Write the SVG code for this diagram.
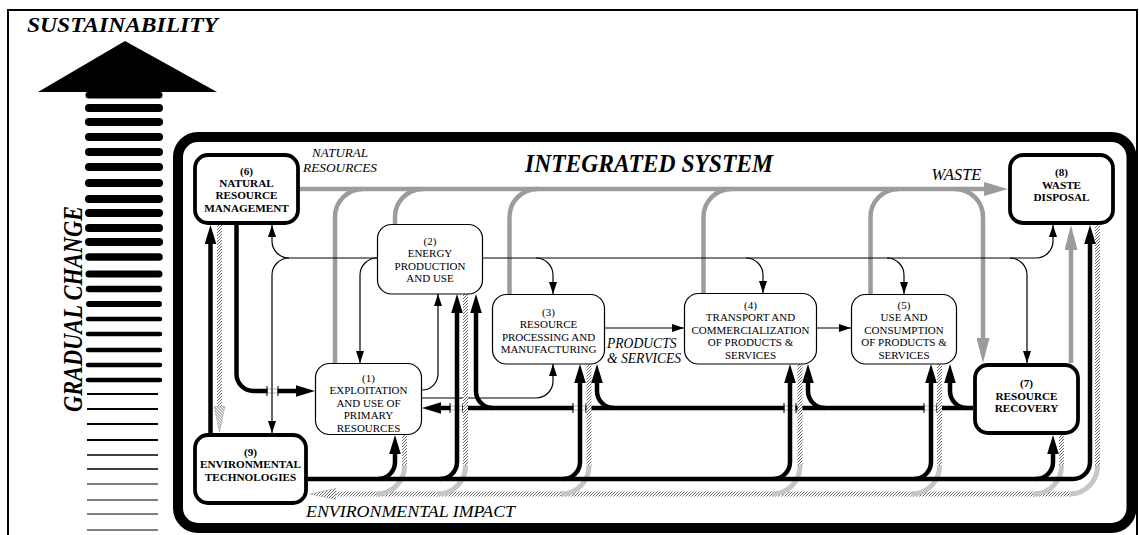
<svg xmlns="http://www.w3.org/2000/svg" width="1139" height="535" viewBox="0 0 1139 535">
<defs>
<style>
.nt{font-family:"Liberation Serif","Times New Roman",serif;font-size:11px;text-anchor:middle;fill:#000}
.bt{font-family:"Liberation Serif","Times New Roman",serif;font-size:11.2px;font-weight:bold;text-anchor:middle;fill:#000}
.lbl{font-family:"Liberation Serif","Times New Roman",serif;font-style:italic;fill:#000}
.big{font-family:"Liberation Serif","Times New Roman",serif;font-style:italic;font-weight:bold;fill:#000}
.node{fill:#fff;stroke:#000;stroke-width:1.2}
.bnode{fill:#fff;stroke:#000;stroke-width:3.8}
.thin{fill:none;stroke:#000;stroke-width:1.2}
.thick{fill:none;stroke:#000;stroke-width:4.5}
.gray{fill:none;stroke:#9c9c9c;stroke-width:4.5}
.hatch{fill:none;stroke:url(#hatchP);stroke-width:5}
.lg{fill:none;stroke:#c6c6c6;stroke-width:5}
.bar{stroke:#000;stroke-linecap:round}
.tbar{stroke:#000}
.tick{stroke:#000;stroke-width:1}
.gapln{stroke:#999;stroke-width:0.7}
</style>
<pattern id="hatchP" patternUnits="userSpaceOnUse" width="3" height="3">
<rect width="3" height="3" fill="#fff"/>
<path d="M-1,1 L1,-1 M0,3 L3,0 M2,4 L4,2" stroke="#5a5a5a" stroke-width="0.9"/>
</pattern>
<marker id="aThin" markerUnits="userSpaceOnUse" viewBox="0 0 12 8" markerWidth="12" markerHeight="8" refX="12" refY="4" orient="auto">
<path d="M0,0 L12,4 L0,8 Z" fill="#000"/>
</marker>
<marker id="aThick" markerUnits="userSpaceOnUse" viewBox="0 0 19 12" markerWidth="19" markerHeight="12" refX="9.5" refY="6" orient="auto">
<path d="M0,0.2 L19,6 L0,11.8 Z" fill="#000"/>
</marker>
<marker id="aGray" markerUnits="userSpaceOnUse" viewBox="0 0 25 13" markerWidth="25" markerHeight="13" refX="12.5" refY="6.5" orient="auto">
<path d="M0,0 L25,6.5 L0,13 Z" fill="#9c9c9c"/>
</marker>
<marker id="aGrayW" markerUnits="userSpaceOnUse" viewBox="0 0 24 14" markerWidth="24" markerHeight="14" refX="12" refY="7" orient="auto">
<path d="M0,0 L24,7 L0,14 Z" fill="#9c9c9c"/>
</marker>
<marker id="aHatch" markerUnits="userSpaceOnUse" viewBox="0 0 26 12" markerWidth="26" markerHeight="12" refX="13" refY="6" orient="auto">
<path d="M0,0.5 L26,6 L0,11.5 Z" fill="url(#hatchP)" stroke="#999" stroke-width="0.5"/>
</marker>
</defs>

<rect x="0" y="0" width="1139" height="535" fill="#fff"/>
<!-- outer frame -->
<rect x="8" y="10" width="1129" height="600" fill="none" stroke="#000" stroke-width="2"/>

<!-- sustainability arrow -->
<g id="gradual-change">
<line class="bar" x1="89" y1="95" x2="159" y2="95" stroke-width="7"/>
<line class="bar" x1="89" y1="108" x2="159" y2="108" stroke-width="8"/>
<line class="bar" x1="89" y1="122" x2="159" y2="122" stroke-width="8"/>
<line class="bar" x1="89" y1="137" x2="159" y2="137" stroke-width="8"/>
<line class="bar" x1="89" y1="152" x2="159" y2="152" stroke-width="8"/>
<line class="bar" x1="89" y1="167" x2="159" y2="167" stroke-width="8"/>
<line class="bar" x1="89" y1="183" x2="159" y2="183" stroke-width="8"/>
<line class="bar" x1="89" y1="199" x2="159" y2="199" stroke-width="8"/>
<line class="bar" x1="89" y1="213" x2="159" y2="213" stroke-width="8"/>
<line class="bar" x1="89" y1="228" x2="159" y2="228" stroke-width="8"/>
<line class="bar" x1="89" y1="242" x2="159" y2="242" stroke-width="8"/>
<line class="bar" x1="89" y1="257" x2="159" y2="257" stroke-width="7.5"/>
<line class="bar" x1="89" y1="274" x2="159" y2="274" stroke-width="7"/>
<line class="bar" x1="89" y1="289" x2="159" y2="289" stroke-width="6.5"/>
<line class="bar" x1="89" y1="304" x2="159" y2="304" stroke-width="6"/>
<line class="bar" x1="88" y1="319" x2="160" y2="319" stroke-width="4.5"/>
<line class="bar" x1="88" y1="334" x2="160" y2="334" stroke-width="4.5"/>
<line class="bar" x1="88" y1="350" x2="160" y2="350" stroke-width="4.5"/>
<line class="bar" x1="88" y1="365" x2="160" y2="365" stroke-width="4.5"/>
<line class="bar" x1="88" y1="380" x2="160" y2="380" stroke-width="4.5"/>
<line class="tbar" x1="87" y1="394" x2="158" y2="394" stroke-width="2.2"/>
<line class="tbar" x1="87" y1="409" x2="158" y2="409" stroke-width="2.2"/>
<line class="tbar" x1="87" y1="424" x2="158" y2="424" stroke-width="2"/>
<line class="tbar" x1="87" y1="440" x2="158" y2="440" stroke-width="1.8"/>
<line class="tbar" x1="87" y1="455" x2="158" y2="455" stroke-width="1.5"/>
<line class="tbar" x1="87" y1="469" x2="158" y2="469" stroke-width="1.3"/>
<line class="tbar" x1="87" y1="484" x2="158" y2="484" stroke-width="1.2"/>
<line class="tbar" x1="87" y1="500" x2="158" y2="500" stroke-width="1.2"/>
<line class="tbar" x1="87" y1="514" x2="158" y2="514" stroke-width="1.2"/>
<line class="tbar" x1="87" y1="530" x2="158" y2="530" stroke-width="1.2"/>
<polygon points="38,92 125,41 217,92" fill="#000"/>
<text class="big" x="27" y="31.5" font-size="21.5" textLength="191" lengthAdjust="spacingAndGlyphs">SUSTAINABILITY</text>
<text class="big" transform="translate(82,412) rotate(-90)" x="0" y="0" font-size="27" textLength="206" lengthAdjust="spacingAndGlyphs">GRADUAL CHANGE</text>
</g>

<!-- integrated system container -->
<g id="integrated-system">
<rect x="178" y="137" width="953.5" height="391" rx="20" ry="20" fill="none" stroke="#000" stroke-width="10"/>
<text class="big" x="525" y="172" font-size="25" textLength="248" lengthAdjust="spacingAndGlyphs">INTEGRATED SYSTEM</text>
</g>

<g id="connectors">
<!-- gray natural resources / waste flows -->
<path class="gray" d="M300,189 H996" marker-end="url(#aGrayW)"/>
<path class="gray" d="M335,363 V217 A28,28 0 0 1 363,189"/>
<path class="gray" d="M395,224 V217 A28,28 0 0 1 423,189"/>
<path class="gray" d="M509.5,294 V217 A28,28 0 0 1 537.5,189"/>
<path class="gray" d="M703.5,293 V217 A28,28 0 0 1 731.5,189"/>
<path class="gray" d="M870.5,294 V217 A28,28 0 0 1 898.5,189"/>
<path class="gray" d="M955,189 A28,28 0 0 1 983,217 V350.5" marker-end="url(#aGray)"/>
<path class="gray" d="M1071,363 V237.5" marker-end="url(#aGray)"/>

<!-- thick: natural resource management to exploitation -->
<path class="thick" d="M236.5,225 V374 A17,17 0 0 0 253.5,391 H305.5" marker-end="url(#aThick)"/>
<rect x="267.5" y="388" width="10" height="6" fill="#fff"/>
<line class="gapln" x1="267" y1="389" x2="278" y2="389"/>
<line class="gapln" x1="267" y1="393" x2="278" y2="393"/>
<line class="tick" x1="267" y1="386" x2="267" y2="396"/>
<line class="tick" x1="278" y1="386" x2="278" y2="396"/>

<!-- thick: resource recovery line -->
<path class="thick" d="M973,408 H431.5" marker-end="url(#aThick)"/>
<rect x="450.5" y="405" width="12" height="6" fill="#fff"/>
<rect x="573.5" y="405" width="12" height="6" fill="#fff"/>
<rect x="784.5" y="405" width="11" height="6" fill="#fff"/>
<rect x="924.5" y="405" width="12" height="6" fill="#fff"/>
<g>
<line class="gapln" x1="450" y1="406" x2="463" y2="406"/><line class="gapln" x1="450" y1="410" x2="463" y2="410"/>
<line class="gapln" x1="573" y1="406" x2="586" y2="406"/><line class="gapln" x1="573" y1="410" x2="586" y2="410"/>
<line class="gapln" x1="784" y1="406" x2="796" y2="406"/><line class="gapln" x1="784" y1="410" x2="796" y2="410"/>
<line class="gapln" x1="924" y1="406" x2="937" y2="406"/><line class="gapln" x1="924" y1="410" x2="937" y2="410"/>
<line class="tick" x1="450" y1="403" x2="450" y2="413"/><line class="tick" x1="463" y1="403" x2="463" y2="413"/>
<line class="tick" x1="573" y1="403" x2="573" y2="413"/><line class="tick" x1="586" y1="403" x2="586" y2="413"/>
<line class="tick" x1="784" y1="403" x2="784" y2="413"/><line class="tick" x1="796" y1="403" x2="796" y2="413"/>
<line class="tick" x1="924" y1="403" x2="924" y2="413"/><line class="tick" x1="937" y1="403" x2="937" y2="413"/>
</g>

<!-- thin: energy flows -->
<path class="thin" d="M377,258 H289 A17,17 0 0 1 272,241 V225" marker-end="url(#aThin)"/>
<path class="thin" d="M289,258 A17,17 0 0 0 272,275 V433" marker-end="url(#aThin)"/>
<path class="thin" d="M377,258 A17,17 0 0 0 360,275 V363" marker-end="url(#aThin)"/>
<path class="thin" d="M483,258 H1036 A17,17 0 0 0 1053,241 V225" marker-end="url(#aThin)"/>
<path class="thin" d="M536,258 A17,17 0 0 1 553,275 V294" marker-end="url(#aThin)"/>
<path class="thin" d="M746,258 A17,17 0 0 1 763,275 V293" marker-end="url(#aThin)"/>
<path class="thin" d="M887,258 A17,17 0 0 1 904,275 V294" marker-end="url(#aThin)"/>
<path class="thin" d="M1010,258 A17,17 0 0 1 1027,275 V363" marker-end="url(#aThin)"/>
<path class="thin" d="M422,390 A16,16 0 0 0 438,374 V294" marker-end="url(#aThin)"/>
<path class="thin" d="M422,398 H536 A17,17 0 0 0 553,381 V364" marker-end="url(#aThin)"/>
<path class="thin" d="M605,328 H684" marker-end="url(#aThin)"/>
<path class="thin" d="M817,328 H851" marker-end="url(#aThin)"/>

<!-- hatched: environmental impact -->
<path class="hatch" d="M219.5,225 V419" marker-end="url(#aHatch)"/>
<path class="hatch" d="M1070,494 H323" marker-end="url(#aHatch)"/>
<path class="hatch" d="M404.5,435 V466"/>
<path class="hatch" d="M465.5,294 V466"/>
<path class="hatch" d="M589,364 V466"/>
<path class="hatch" d="M800,364 V466"/>
<path class="hatch" d="M939.5,364 V466"/>
<path class="hatch" d="M1061.5,435 V466"/>
<path class="hatch" d="M1097.5,225 V466"/>
<path class="lg" d="M404.5,465 A28,28 0 0 1 376.5,494"/>
<path class="lg" d="M465.5,465 A28,28 0 0 1 437.5,494"/>
<path class="lg" d="M589,465 A28,28 0 0 1 561,494"/>
<path class="lg" d="M800,465 A28,28 0 0 1 772,494"/>
<path class="lg" d="M939.5,465 A28,28 0 0 1 911.5,494"/>
<path class="lg" d="M1061.5,465 A28,28 0 0 1 1033.5,494"/>
<path class="lg" d="M1097.5,465 A28,28 0 0 1 1069.5,494"/>

<!-- thick: resource recovery branches -->
<path class="thick" d="M967,408 A17,17 0 0 1 950,391 V373.5" marker-end="url(#aThick)"/>
<path class="thick" d="M825,408 A17,17 0 0 1 808,391 V373.5" marker-end="url(#aThick)"/>
<path class="thick" d="M614,408 A17,17 0 0 1 597,391 V373.5" marker-end="url(#aThick)"/>
<path class="thick" d="M493,408 A17,17 0 0 1 476,391 V303.5" marker-end="url(#aThick)"/>

<!-- thick: environmental technologies -->
<path class="thick" d="M210.5,433 V234.5" marker-end="url(#aThick)"/>
<path class="thick" d="M308,479 H1073 A17,17 0 0 0 1090,462 V234.5" marker-end="url(#aThick)"/>
<path class="thick" d="M378,479 A17,17 0 0 0 395,462 V444.5" marker-end="url(#aThick)"/>
<path class="thick" d="M440,479 A17,17 0 0 0 457,462 V303.5" marker-end="url(#aThick)"/>
<path class="thick" d="M563,479 A17,17 0 0 0 580,462 V373.5" marker-end="url(#aThick)"/>
<path class="thick" d="M773,479 A17,17 0 0 0 790,462 V373.5" marker-end="url(#aThick)"/>
<path class="thick" d="M914,479 A17,17 0 0 0 931,462 V373.5" marker-end="url(#aThick)"/>
<path class="thick" d="M1036,479 A17,17 0 0 0 1053,462 V444.5" marker-end="url(#aThick)"/>
</g>

<!-- labels -->
<text class="lbl" x="340" y="157" font-size="13" text-anchor="middle">NATURAL</text>
<text class="lbl" x="340" y="171.5" font-size="13" text-anchor="middle" textLength="74" lengthAdjust="spacingAndGlyphs">RESOURCES</text>
<text class="lbl" x="931.5" y="180" font-size="16.4">WASTE</text>
<text class="lbl" x="607" y="348" font-size="13.6">PRODUCTS</text>
<text class="lbl" x="607" y="362.5" font-size="13.6">&amp; SERVICES</text>
<text class="lbl" x="306" y="517" font-size="17.7" textLength="209" lengthAdjust="spacingAndGlyphs">ENVIRONMENTAL IMPACT</text>

<!-- nodes -->
<g id="node1">
<rect class="node" x="315.5" y="363.5" width="106" height="71" rx="14"/>
<text class="nt"><tspan x="368.5" y="382">(1)</tspan><tspan x="368.5" y="394.4">EXPLOITATION</tspan><tspan x="368.5" y="406.8">AND USE OF</tspan><tspan x="368.5" y="419.2">PRIMARY</tspan><tspan x="368.5" y="431.6">RESOURCES</tspan></text>
</g>
<g id="node2">
<rect class="node" x="377.5" y="224.5" width="105" height="69.5" rx="14"/>
<text class="nt"><tspan x="430" y="244.6">(2)</tspan><tspan x="430" y="257.2">ENERGY</tspan><tspan x="430" y="269.8">PRODUCTION</tspan><tspan x="430" y="282.4">AND USE</tspan></text>
</g>
<g id="node3">
<rect class="node" x="492.5" y="294.5" width="112" height="69.5" rx="14"/>
<text class="nt"><tspan x="548.5" y="315.5">(3)</tspan><tspan x="548.5" y="328">RESOURCE</tspan><tspan x="548.5" y="340.5">PROCESSING AND</tspan><tspan x="548.5" y="353">MANUFACTURING</tspan></text>
</g>
<g id="node4">
<rect class="node" x="684.5" y="293.5" width="132" height="70.5" rx="14"/>
<text class="nt"><tspan x="750.5" y="309">(4)</tspan><tspan x="750.5" y="321.4">TRANSPORT AND</tspan><tspan x="750.5" y="333.8">COMMERCIALIZATION</tspan><tspan x="750.5" y="346.2">OF PRODUCTS &amp;</tspan><tspan x="750.5" y="358.6">SERVICES</tspan></text>
</g>
<g id="node5">
<rect class="node" x="851.5" y="294.5" width="105" height="69.5" rx="14"/>
<text class="nt"><tspan x="904" y="309">(5)</tspan><tspan x="904" y="321.4">USE AND</tspan><tspan x="904" y="333.8">CONSUMPTION</tspan><tspan x="904" y="346.2">OF PRODUCTS &amp;</tspan><tspan x="904" y="358.6">SERVICES</tspan></text>
</g>
<g id="node6">
<rect class="bnode" x="195" y="155" width="103" height="68" rx="13"/>
<text class="bt"><tspan x="246.5" y="174.6">(6)</tspan><tspan x="246.5" y="187">NATURAL</tspan><tspan x="246.5" y="199.4">RESOURCE</tspan><tspan x="246.5" y="211.8">MANAGEMENT</tspan></text>
</g>
<g id="node7">
<rect class="bnode" x="975" y="365" width="103" height="68" rx="13"/>
<text class="bt"><tspan x="1026.5" y="387">(7)</tspan><tspan x="1026.5" y="399.8">RESOURCE</tspan><tspan x="1026.5" y="412">RECOVERY</tspan></text>
</g>
<g id="node8">
<rect class="bnode" x="1010" y="155" width="103" height="68" rx="13"/>
<text class="bt"><tspan x="1061.5" y="176.2">(8)</tspan><tspan x="1061.5" y="188.6">WASTE</tspan><tspan x="1061.5" y="201">DISPOSAL</tspan></text>
</g>
<g id="node9">
<rect class="bnode" x="195" y="435" width="111" height="68" rx="13"/>
<text class="bt"><tspan x="250.5" y="455.8">(9)</tspan><tspan x="250.5" y="468.4">ENVIRONMENTAL</tspan><tspan x="250.5" y="481">TECHNOLOGIES</tspan></text>
</g>
</svg>
